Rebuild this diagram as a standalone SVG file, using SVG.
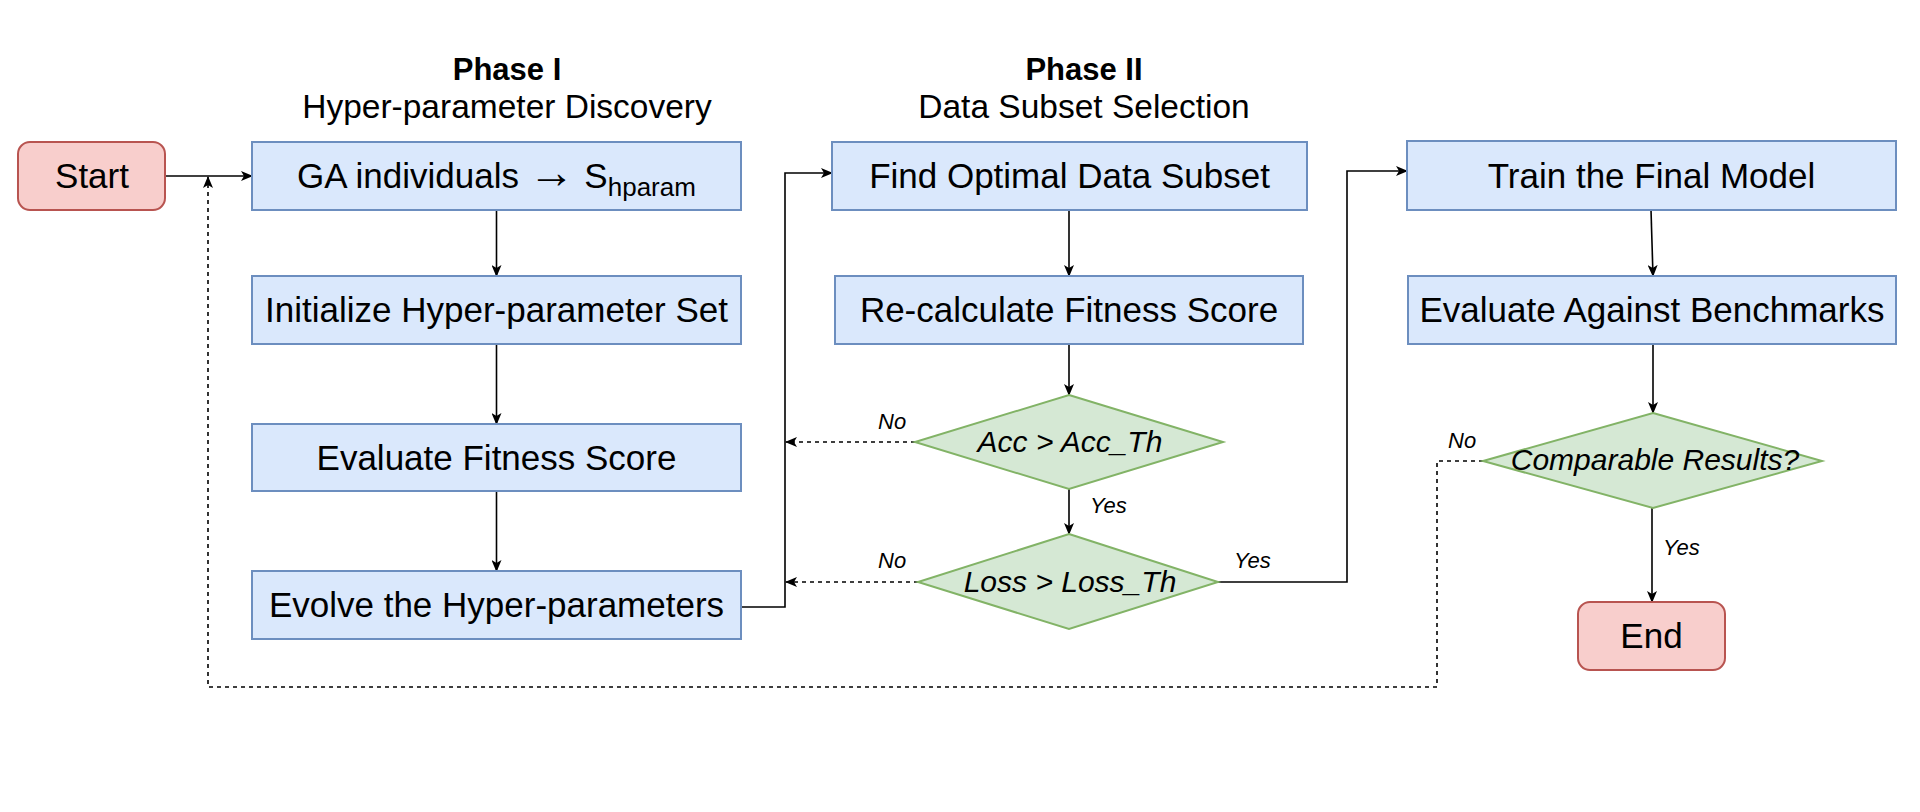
<svg xmlns="http://www.w3.org/2000/svg" width="1920" height="812" viewBox="0 0 1920 812">
<style>
.blue{fill:#dae8fc;stroke:#6c8ebf;stroke-width:2}
.red{fill:#f8cecc;stroke:#b85450;stroke-width:2}
.green{fill:#d5e8d4;stroke:#82b366;stroke-width:2}
.t{font-family:"Liberation Sans",Arial,sans-serif;font-size:35px;fill:#000;text-anchor:middle}
.d{font-family:"Liberation Sans",Arial,sans-serif;font-size:30px;font-style:italic;fill:#000;text-anchor:middle}
.lbl{font-family:"Liberation Sans",Arial,sans-serif;font-size:22px;font-style:italic;fill:#000}
.h{font-family:"Liberation Sans",Arial,sans-serif;font-size:33.5px;fill:#000;text-anchor:middle}
.hb{font-weight:bold;font-size:31px}
.ln{fill:none;stroke:#000;stroke-width:1.6}
.ds{fill:none;stroke:#000;stroke-width:1.6;stroke-dasharray:4 4}
</style>
<defs>
<marker id="arr" viewBox="0 0 12 10" refX="11" refY="5" markerWidth="12" markerHeight="10" markerUnits="userSpaceOnUse" orient="auto">
<path d="M0,0 L12,5 L0,10 L3,5 Z" fill="#000"/>
</marker>
</defs>
<rect width="1920" height="812" fill="#fff"/>
<g id="headings">
<text class="h hb" x="507" y="80">Phase I</text>
<text class="h" x="507" y="118">Hyper-parameter Discovery</text>
<text class="h hb" x="1084" y="80">Phase II</text>
<text class="h" x="1084" y="118">Data Subset Selection</text>
</g>
<g id="connectors">
<path class="ln" d="M165,176 H252" marker-end="url(#arr)"/>
<path class="ln" d="M496.5,210 V276" marker-end="url(#arr)"/>
<path class="ln" d="M496.5,344 V424" marker-end="url(#arr)"/>
<path class="ln" d="M496.5,491 V571" marker-end="url(#arr)"/>
<path class="ln" d="M741,607 H785 V173 H832" marker-end="url(#arr)"/>
<path class="ln" d="M1069,210 V276" marker-end="url(#arr)"/>
<path class="ln" d="M1069,344 V395" marker-end="url(#arr)"/>
<path class="ln" d="M1069,489 V534" marker-end="url(#arr)"/>
<path class="ds" d="M915,442 H786" marker-end="url(#arr)"/>
<path class="ds" d="M918,582 H786" marker-end="url(#arr)"/>
<path class="ln" d="M1218,582 H1347 V171 H1407" marker-end="url(#arr)"/>
<path class="ln" d="M1651,210 L1653,276" marker-end="url(#arr)"/>
<path class="ln" d="M1653,344 V413" marker-end="url(#arr)"/>
<path class="ln" d="M1652,508 V602" marker-end="url(#arr)"/>
<path class="ds" d="M1483,461 H1437 V687 H208 V177" marker-end="url(#arr)"/>
<text class="lbl" x="878" y="429">No</text>
<text class="lbl" x="878" y="568">No</text>
<text class="lbl" x="1090" y="513">Yes</text>
<text class="lbl" x="1234" y="568">Yes</text>
<text class="lbl" x="1448" y="448">No</text>
<text class="lbl" x="1663" y="555">Yes</text>
</g>
<g id="start">
<rect class="red" x="18" y="142" width="147" height="68" rx="12"/>
<text class="t" x="92" y="188">Start</text>
</g>
<g id="ga">
<rect class="blue" x="252" y="142" width="489" height="68"/>
<text class="t" x="496.5" y="188">GA individuals <tspan font-size="46">→</tspan> S<tspan font-size="26" dy="8">hparam</tspan></text>
</g>
<g id="init">
<rect class="blue" x="252" y="276" width="489" height="68"/>
<text class="t" x="496.5" y="322">Initialize Hyper-parameter Set</text>
</g>
<g id="evalfit">
<rect class="blue" x="252" y="424" width="489" height="67"/>
<text class="t" x="496.5" y="470">Evaluate Fitness Score</text>
</g>
<g id="evolve">
<rect class="blue" x="252" y="571" width="489" height="68"/>
<text class="t" x="496.5" y="617">Evolve the Hyper-parameters</text>
</g>
<g id="find">
<rect class="blue" x="832" y="142" width="475" height="68"/>
<text class="t" x="1069.5" y="188">Find Optimal Data Subset</text>
</g>
<g id="recalc">
<rect class="blue" x="835" y="276" width="468" height="68"/>
<text class="t" x="1069" y="322">Re-calculate Fitness Score</text>
</g>
<g id="acc">
<polygon class="green" points="1069,395 1223,442 1069,489 915,442"/>
<text class="d" x="1070" y="452">Acc &gt; Acc_Th</text>
</g>
<g id="loss">
<polygon class="green" points="1069,534 1218,582 1069,629 918,582"/>
<text class="d" x="1070" y="592">Loss &gt; Loss_Th</text>
</g>
<g id="train">
<rect class="blue" x="1407" y="141" width="489" height="69"/>
<text class="t" x="1651.5" y="188">Train the Final Model</text>
</g>
<g id="bench">
<rect class="blue" x="1408" y="276" width="488" height="68"/>
<text class="t" x="1652" y="322">Evaluate Against Benchmarks</text>
</g>
<g id="comparable">
<polygon class="green" points="1653,413 1822,461 1653,508 1483,461"/>
<text class="d" x="1655" y="470" font-size="26.5">Comparable Results?</text>
</g>
<g id="end">
<rect class="red" x="1578" y="602" width="147" height="68" rx="12"/>
<text class="t" x="1651.5" y="648">End</text>
</g>
</svg>
